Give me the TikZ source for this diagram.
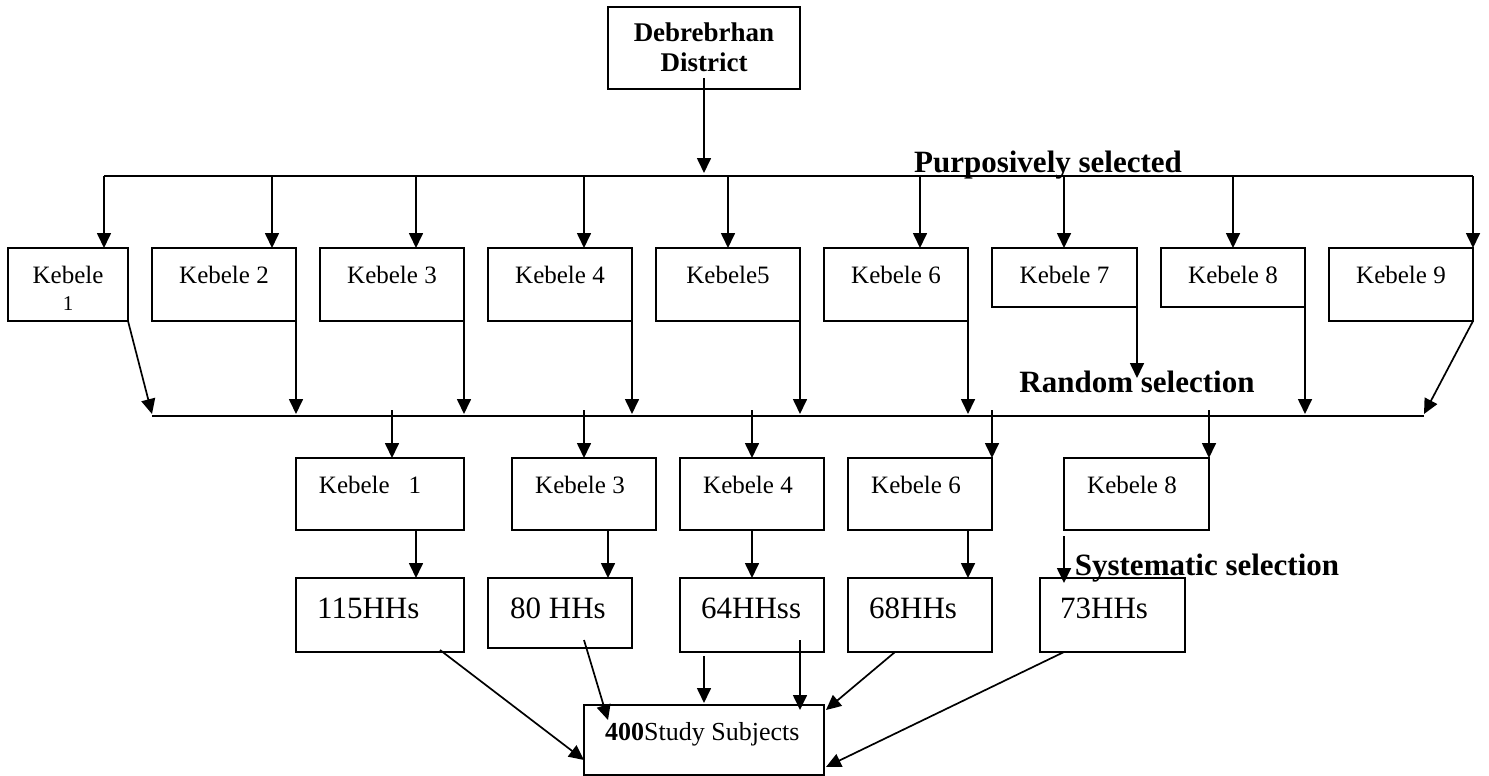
\documentclass[tikz,border=0pt]{standalone}
\usepackage{fontspec}
\setmainfont{Liberation Serif}
\usetikzlibrary{arrows.meta,calc}
\tikzset{
  box/.style={draw, line width=1.8pt, inner sep=0pt, outer sep=0pt},
  ln/.style={line width=1.7pt},
  arr/.style={line width=1.7pt, -{Triangle[length=15pt,width=14pt]}},
  kt/.style={inner sep=0pt, anchor=base, font=\fontsize{25}{30}\selectfont},
  ht/.style={inner sep=0pt, anchor=base west, font=\fontsize{31}{36}\selectfont},
  hd/.style={inner sep=0pt, anchor=base, font=\bfseries\fontsize{27}{30}\selectfont},
  lb/.style={inner sep=0pt, anchor=base, font=\bfseries\fontsize{31}{36}\selectfont},
}
\begin{document}
\begin{tikzpicture}[x=1pt,y=-1pt]
\useasboundingbox (0,0) rectangle (1489,776);
% district
\node[box, minimum width=192pt, minimum height=82pt] (dist) at (704,48) {};
\node[hd] (d1) at (704,42) {Debrebrhan};
\node[hd] (d2) at (704,72) {District};
% row 1 boxes
\node[box, minimum width=120pt, minimum height=73pt] (k1) at (68,284.5) {};
\node[box, minimum width=144pt, minimum height=73pt] (k2) at (224,284.5) {};
\node[box, minimum width=144pt, minimum height=73pt] (k3) at (392,284.5) {};
\node[box, minimum width=144pt, minimum height=73pt] (k4) at (560,284.5) {};
\node[box, minimum width=144pt, minimum height=73pt] (k5) at (728,284.5) {};
\node[box, minimum width=144pt, minimum height=73pt] (k6) at (896,284.5) {};
\node[box, minimum width=145pt, minimum height=59pt] (k7) at (1064.5,277.5) {};
\node[box, minimum width=144pt, minimum height=59pt] (k8) at (1233,277.5) {};
\node[box, minimum width=144pt, minimum height=73pt] (k9) at (1401,284.5) {};
\node[kt] (k1t) at (68,283) {Kebele};
\node[kt, font=\fontsize{21}{24}\selectfont] (k1n) at (68,310) {1};
\node[kt] (k2t) at (224,283) {Kebele 2};
\node[kt] (k3t) at (392,283) {Kebele 3};
\node[kt] (k4t) at (560,283) {Kebele 4};
\node[kt] (k5t) at (728,283) {Kebele5};
\node[kt] (k6t) at (896,283) {Kebele 6};
\node[kt] (k7t) at (1064.5,283) {Kebele 7};
\node[kt] (k8t) at (1233,283) {Kebele 8};
\node[kt] (k9t) at (1401,283) {Kebele 9};
% purposive line
\coordinate (p1) at (104,176);
\coordinate (p2) at (272,176);
\coordinate (p3) at (416,176);
\coordinate (p4) at (584,176);
\coordinate (p5) at (728,176);
\coordinate (p6) at (920,176);
\coordinate (p7) at (1064,176);
\coordinate (p8) at (1233,176);
\coordinate (p9) at (1473,176);
\coordinate (pd) at (704,173);
\draw[ln] (p1) -- (p9);
\draw[arr] ($(dist.south)+(0,-11)$) -- (pd);
\foreach \i in {1,...,9} {\draw[arr] (p\i) -- (p\i |- k\i.north);}
\node[lb] (purp) at (1048,172) {Purposively selected};
% random line
\coordinate (r0) at (152,416);
\coordinate (r1) at (1424,416);
\draw[ln] (r0) -- (r1);
\draw[arr] (k1.south east) -- ($(r0)+(0,-2)$);
\foreach \i in {2,3,4,5,6,8} {\draw[arr] (k\i.south east) -- ($(k\i.south east |- r0)+(0,-2)$);}
\draw[arr] (k7.south east) -- ++(0,71);
\draw[arr] (k9.south east) -- ($(r1)+(0,-2)$);
\node[lb] (rand) at (1137,392) {Random selection};
% row 2 boxes
\node[box, minimum width=168pt, minimum height=72pt] (b1) at (380,494) {};
\node[box, minimum width=144pt, minimum height=72pt] (b3) at (584,494) {};
\node[box, minimum width=144pt, minimum height=72pt] (b4) at (752,494) {};
\node[box, minimum width=144pt, minimum height=72pt] (b6) at (920,494) {};
\node[box, minimum width=145pt, minimum height=72pt] (b8) at (1136.5,494) {};
\node[kt] (b1t) at (370,493) {Kebele~~~1};
\node[kt] (b3t) at (580,493) {Kebele 3};
\node[kt] (b4t) at (748,493) {Kebele 4};
\node[kt] (b6t) at (916,493) {Kebele 6};
\node[kt] (b8t) at (1132,493) {Kebele 8};
\coordinate (s1) at (392,410);
\coordinate (s3) at (584,410);
\coordinate (s4) at (752,410);
\coordinate (s6) at (992,410);
\coordinate (s8) at (1209,410);
\foreach \i in {1,3,4,6,8} {\draw[arr] (s\i) -- (s\i |- b\i.north);}
% row 3 boxes
\node[box, minimum width=168pt, minimum height=74pt] (h1) at (380,615) {};
\node[box, minimum width=144pt, minimum height=70pt] (h2) at (560,613) {};
\node[box, minimum width=144pt, minimum height=74pt] (h3) at (752,615) {};
\node[box, minimum width=144pt, minimum height=74pt] (h4) at (920,615) {};
\node[box, minimum width=145pt, minimum height=74pt] (h5) at (1112.5,615) {};
\node[ht] (h1t) at (317,618) {115HHs};
\node[ht] (h2t) at (510,618) {80 HHs};
\node[ht] (h3t) at (701,618) {64HHss};
\node[ht] (h4t) at (869,618) {68HHs};
\node[ht] (h5t) at (1060,618) {73HHs};
\draw[arr] ($(b1.south)+(36,0)$) -- ($(h1.north)+(36,0)$);
\draw[arr] ($(b3.south)+(24,0)$) -- ++(0,48);
\draw[arr] (b4.south) -- (h3.north);
\draw[arr] ($(b6.south)+(48,0)$) -- ($(h4.north)+(48,0)$);
\draw[arr] ($(b8.south west)+(0,6)$) -- ++(0,47);
\node[lb] (syst) at (1207,575) {Systematic selection};
% bottom box
\node[box, minimum width=240pt, minimum height=70pt] (bot) at (704,740) {};
\node[inner sep=0pt, anchor=base west, font=\fontsize{26}{30}\selectfont] (bott) at (605,740) {\textbf{400}Study Subjects};
\draw[arr] ($(h1.south)+(60,-2)$) -- ($(bot.west)+(0,20)$);
\draw[arr] ($(h2.south)+(24,-8)$) -- ($(bot.north west)+(24,15)$);
\draw[arr] ($(h3.south)+(-48,4)$) -- ($(bot.north)+(0,-2)$);
\draw[arr] ($(h3.south)+(48,-12)$) -- ($(bot.north east)+(-24,5)$);
\draw[arr] ($(h4.south)+(-25,0)$) -- ($(bot.north east)+(2,5)$);
\draw[arr] ($(h5.south west)+(24,0)$) -- ($(bot.south east)+(2,-8)$);
\end{tikzpicture}
\end{document}
